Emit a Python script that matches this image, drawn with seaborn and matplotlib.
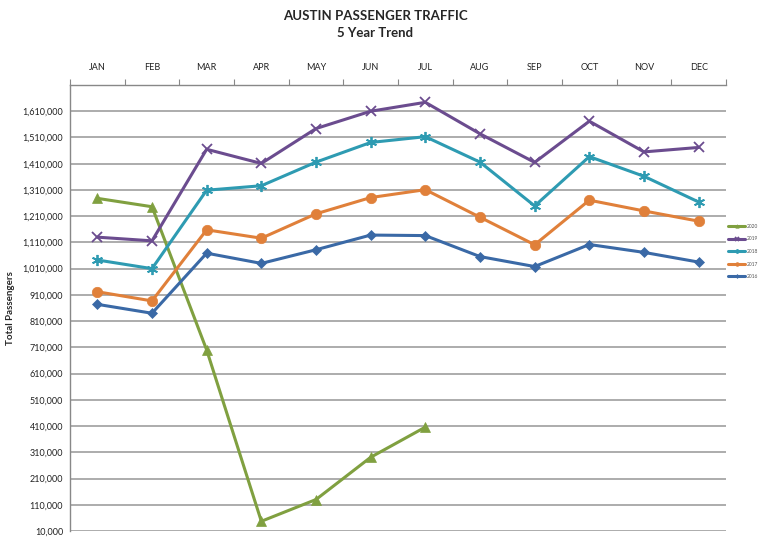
import numpy as np
import pandas as pd
import matplotlib.pyplot as plt
import matplotlib.ticker as mticker
import seaborn as sns

# monthly passenger totals
months = ["JAN", "FEB", "MAR", "APR", "MAY", "JUN", "JUL", "AUG", "SEP", "OCT", "NOV", "DEC"]
pax_2020 = [1278000, 1246000, 700000, 47000, 130000, 291000, 406000]
pax_2019 = [1130000, 1116000, 1465000, 1411000, 1544000, 1610000, 1644000,
            1524000, 1415000, 1572000, 1455000, 1472000]
pax_2018 = [1043000, 1010000, 1309000, 1326000, 1416000, 1491000, 1513000,
            1416000, 1249000, 1437000, 1362000, 1264000]
pax_2017 = [922000, 887000, 1158000, 1126000, 1219000, 1281000, 1311000,
            1206000, 1101000, 1271000, 1230000, 1191000]
pax_2016 = [874000, 840000, 1069000, 1030000, 1082000, 1138000, 1136000,
            1056000, 1018000, 1102000, 1072000, 1035000]
years = ["2020", "2019", "2018", "2017", "2016"]

series = {"2020": pax_2020, "2019": pax_2019, "2018": pax_2018,
          "2017": pax_2017, "2016": pax_2016}
rows = []
for yr in years:
    for i, v in enumerate(series[yr]):
        rows.append({"year": yr, "pos": i, "month": months[i], "pax": v})
df = pd.DataFrame(rows)

styles = {
    "2020": dict(color="#80A040", marker="^", ms=7),
    "2019": dict(color="#6B4C8F", marker="x", ms=7),
    "2018": dict(color="#2E9BB2", marker=(6, 2, 0), ms=8),
    "2017": dict(color="#E0803A", marker="o", ms=7.5),
    "2016": dict(color="#3A69A6", marker="D", ms=5.5),
}

sns.set_style("white")
plt.rcParams["font.family"] = ["Lato", "DejaVu Sans"]

fig = plt.figure(figsize=(7.75, 5.53), dpi=100)
ax = fig.add_axes([70 / 775, 1 - 531 / 553, 656 / 775, 446 / 553])

for yr in years:
    st = styles[yr]
    sub = df[df["year"] == yr]
    mk = st["marker"]
    sns.lineplot(data=sub, x="pos", y="pax", ax=ax, color=st["color"],
                 linewidth=2.2, marker=mk, markersize=st["ms"],
                 markeredgecolor=st["color"], markeredgewidth=1.3 if mk in ("x", (6, 2, 0)) else 0.5,
                 label=yr, zorder=3)

ax.set_xlim(-0.5, len(months) - 0.5)
ax.set_ylim(10000, 1710000)
ax.set_yticks(np.arange(10000, 1610001, 100000))
ax.yaxis.set_major_formatter(mticker.FuncFormatter(lambda v, p: f"{int(v):,}"))
ax.grid(axis="y", color="#A6A6A6", linewidth=1.3)
ax.set_axisbelow(True)

ax.xaxis.tick_top()
ax.set_xticks(range(len(months)))
ax.set_xticklabels(months)
ax.set_xticks(np.arange(-0.5, len(months), 1), minor=True)
ax.tick_params(axis="x", which="major", length=0, labelsize=6.5, pad=9, colors="#222222")
ax.tick_params(axis="x", which="minor", length=4, width=0.8, color="#888888", direction="out", top=True, bottom=False)
ax.tick_params(axis="y", length=0, labelsize=6.5, pad=5, colors="#222222")

for s in ["right", "bottom"]:
    ax.spines[s].set_visible(False)
for s in ["left", "top"]:
    ax.spines[s].set_color("#888888")
    ax.spines[s].set_linewidth(1.0)

ax.set_xlabel("")
ax.set_ylabel("Total Passengers", fontsize=7, fontweight="bold", labelpad=5)

handles, labels = ax.get_legend_handles_labels()
ax.legend_.remove()
fig.legend(handles, labels, loc="upper left", bbox_to_anchor=(726 / 775, 1 - 222 / 553),
           frameon=False, fontsize=3.5, handlelength=3.6, labelspacing=1.55,
           markerscale=0.35, handletextpad=0.3, borderaxespad=0, labelcolor="#555555")

fig.text(0.484, 1 - 16 / 553, "AUSTIN PASSENGER TRAFFIC", ha="center", va="center",
         fontsize=9.5, fontweight="bold")
fig.text(0.484, 1 - 33 / 553, "5 Year Trend", ha="center", va="center",
         fontsize=9.5, fontweight="bold")

fig.savefig("out.png", dpi=100)
